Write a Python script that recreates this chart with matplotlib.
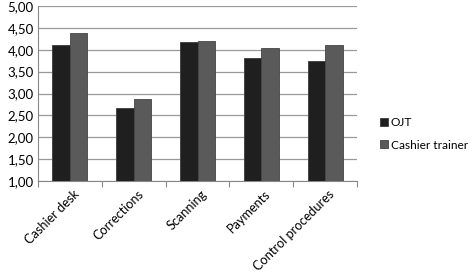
import numpy as np
import matplotlib.pyplot as plt

categories = ['Cashier desk', 'Corrections', 'Scanning', 'Payments', 'Control procedures']
ojt = [4.12, 2.67, 4.18, 3.81, 3.75]
trainer = [4.38, 2.87, 4.21, 4.04, 4.12]
series_names = ['OJT', 'Cashier trainer']
yticks = [1.0, 1.5, 2.0, 2.5, 3.0, 3.5, 4.0, 4.5, 5.0]

plt.rcParams['font.family'] = ['Lato', 'DejaVu Sans']

fig = plt.figure(figsize=(4.72, 2.74), dpi=100)
ax = fig.add_axes([38 / 472, 1 - 181 / 274, 319 / 472, 175 / 274])

x = np.arange(len(categories))
w = 0.275
ax.bar(x - w / 2, ojt, w, bottom=0, color='#1f1f1f', edgecolor='#3a3a3a', linewidth=0.6,
       label=series_names[0], zorder=3)
ax.bar(x + w / 2, trainer, w, bottom=0, color='#5a5a5a', edgecolor='#444444', linewidth=0.6,
       label=series_names[1], zorder=3)

ax.set_ylim(1, 5)
ax.set_xlim(-0.5, len(categories) - 0.5)
ax.set_yticks(yticks)
ax.set_yticklabels([f'{v:.2f}'.replace('.', ',') for v in yticks], fontsize=9.5)
ax.yaxis.grid(True, color='#9a9a9a', linewidth=0.9, zorder=0)
ax.tick_params(axis='y', length=0, pad=3)

# category ticks on the boundaries, labels centred under the groups
ax.set_xticks(np.arange(-0.5, len(categories), 1.0))
ax.set_xticklabels([])
ax.tick_params(axis='x', which='major', length=4, color='#888888', direction='out')
ax.set_xticks(x + 0.05, minor=True)
ax.set_xticklabels(categories, minor=True, rotation=45, ha='right', rotation_mode='anchor',
                   fontsize=9.2)
ax.tick_params(axis='x', which='minor', length=0, pad=5)

for s in ['top', 'right']:
    ax.spines[s].set_visible(False)
ax.spines['left'].set_color('#888888')
ax.spines['bottom'].set_color('#888888')

fig.legend(loc='center left', bbox_to_anchor=(374 / 472, 1 - 134 / 274), frameon=False,
           fontsize=8.6, handlelength=0.65, handleheight=0.65, handletextpad=0.25,
           labelspacing=0.95, borderpad=0)

fig.savefig('out.png', dpi=100)
